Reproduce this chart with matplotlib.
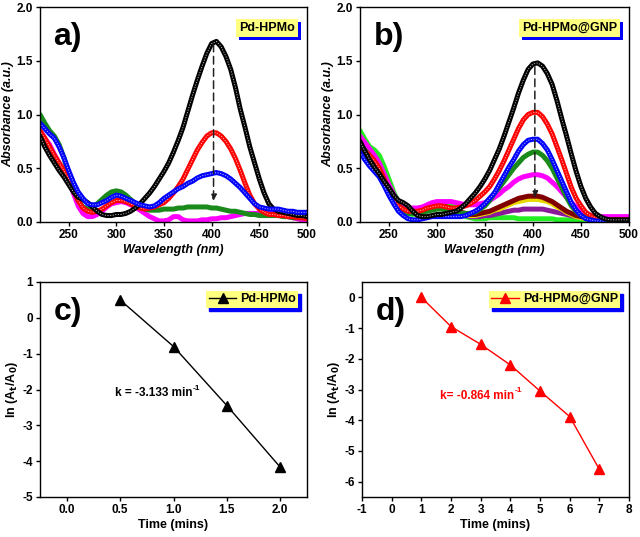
import numpy as np
import matplotlib
matplotlib.use("Agg")
import matplotlib.pyplot as plt
import matplotlib.patheffects as pe

plt.rcParams['font.family'] = ['Liberation Sans', 'DejaVu Sans']
plt.rcParams['font.weight'] = 'bold'
plt.rcParams['axes.unicode_minus'] = False
plt.rcParams['mathtext.default'] = 'bf'

# ---------------- data ----------------
wl = [220, 225, 230, 235, 240, 245, 250, 255, 260, 265, 270, 275, 280, 285, 290, 295,
      300, 305, 310, 315, 320, 325, 330, 335, 340, 345, 350, 355, 360, 365, 370, 375,
      380, 385, 390, 395, 400, 405, 410, 415, 420, 425, 430, 435, 440, 445, 450, 455,
      460, 465, 470, 475, 480, 485, 490, 495, 500]

# panel a (Pd-HPMo)
a_black = [0.80, 0.70, 0.62, 0.55, 0.48, 0.42, 0.35, 0.28, 0.23, 0.21, 0.18, 0.14, 0.10, 0.07, 0.06, 0.06,
           0.07, 0.07, 0.08, 0.10, 0.13, 0.17, 0.22, 0.27, 0.33, 0.40, 0.47, 0.55, 0.65, 0.76, 0.88, 1.03,
           1.18, 1.32, 1.45, 1.57, 1.66, 1.68, 1.63, 1.54, 1.42, 1.25, 1.05, 0.88, 0.70, 0.55, 0.40, 0.27,
           0.17, 0.12, 0.10, 0.09, 0.08, 0.07, 0.06, 0.06, 0.05]
a_red = [0.85, 0.78, 0.70, 0.62, 0.55, 0.48, 0.40, 0.30, 0.20, 0.13, 0.10, 0.09, 0.10, 0.12, 0.15, 0.18,
         0.20, 0.20, 0.19, 0.17, 0.14, 0.13, 0.12, 0.13, 0.14, 0.16, 0.18, 0.22, 0.27, 0.33, 0.40, 0.49,
         0.58, 0.67, 0.74, 0.80, 0.83, 0.83, 0.80, 0.75, 0.68, 0.59, 0.48, 0.36, 0.25, 0.17, 0.12, 0.09,
         0.07, 0.07, 0.06, 0.06, 0.05, 0.05, 0.04, 0.04, 0.03]
a_blue = [0.92, 0.87, 0.82, 0.78, 0.70, 0.60, 0.48, 0.37, 0.28, 0.22, 0.17, 0.16, 0.16, 0.18, 0.20, 0.23,
          0.25, 0.24, 0.22, 0.20, 0.18, 0.16, 0.15, 0.14, 0.15, 0.18, 0.22, 0.25, 0.28, 0.31, 0.33, 0.36,
          0.38, 0.41, 0.43, 0.44, 0.45, 0.46, 0.45, 0.43, 0.40, 0.36, 0.32, 0.27, 0.22, 0.17, 0.14, 0.13,
          0.12, 0.12, 0.12, 0.11, 0.10, 0.10, 0.09, 0.09, 0.09]
a_green = [1.00, 0.92, 0.85, 0.80, 0.72, 0.60, 0.45, 0.32, 0.20, 0.14, 0.12, 0.14, 0.17, 0.21, 0.25, 0.28,
           0.29, 0.28, 0.25, 0.21, 0.17, 0.14, 0.12, 0.11, 0.11, 0.11, 0.12, 0.12, 0.12, 0.13, 0.13, 0.14,
           0.14, 0.14, 0.14, 0.14, 0.13, 0.13, 0.12, 0.11, 0.10, 0.10, 0.09, 0.08, 0.07, 0.07, 0.06, 0.06,
           0.06, 0.06, 0.06, 0.05, 0.05, 0.04, 0.04, 0.04, 0.04]
a_magenta = [0.85, 0.78, 0.72, 0.63, 0.55, 0.48, 0.40, 0.27, 0.15, 0.08, 0.05, 0.05, 0.07, 0.10, 0.14, 0.17,
             0.18, 0.19, 0.18, 0.16, 0.14, 0.11, 0.08, 0.05, 0.03, 0.01, 0.01, 0.02, 0.05, 0.05, 0.02, 0.01,
             0.01, 0.01, 0.02, 0.02, 0.03, 0.03, 0.04, 0.04, 0.05, 0.06, 0.07, 0.08, 0.08, 0.08, 0.08, 0.08,
             0.08, 0.08, 0.07, 0.06, 0.05, 0.04, 0.03, 0.02, 0.02]

# panel b (Pd-HPMo@GNP)
b_black = [0.75, 0.66, 0.58, 0.51, 0.45, 0.38, 0.32, 0.25, 0.20, 0.18, 0.15, 0.10, 0.06, 0.05, 0.05, 0.06,
           0.07, 0.07, 0.08, 0.09, 0.10, 0.13, 0.17, 0.22, 0.27, 0.33, 0.40, 0.48, 0.58, 0.68, 0.80, 0.93,
           1.06, 1.20, 1.32, 1.42, 1.47, 1.48, 1.45, 1.38, 1.28, 1.13, 0.96, 0.80, 0.63, 0.47, 0.33, 0.22,
           0.14, 0.08, 0.05, 0.03, 0.02, 0.02, 0.02, 0.02, 0.02]
b_red = [0.70, 0.66, 0.62, 0.57, 0.50, 0.40, 0.30, 0.22, 0.15, 0.12, 0.10, 0.10, 0.10, 0.11, 0.13, 0.14,
         0.15, 0.15, 0.14, 0.13, 0.13, 0.14, 0.15, 0.17, 0.20, 0.24, 0.28, 0.33, 0.40, 0.48, 0.57, 0.67,
         0.77, 0.87, 0.95, 1.00, 1.02, 1.02, 0.98, 0.91, 0.82, 0.70, 0.58, 0.45, 0.32, 0.22, 0.15, 0.09,
         0.06, 0.04, 0.03, 0.02, 0.02, 0.02, 0.02, 0.02, 0.02]
b_blue = [0.65, 0.58, 0.52, 0.47, 0.42, 0.34, 0.25, 0.17, 0.10, 0.06, 0.03, 0.02, 0.02, 0.03, 0.04, 0.05,
          0.05, 0.05, 0.05, 0.05, 0.05, 0.05, 0.06, 0.08, 0.10, 0.13, 0.17, 0.22, 0.27, 0.35, 0.43, 0.51,
          0.58, 0.66, 0.72, 0.76, 0.77, 0.77, 0.73, 0.67, 0.58, 0.48, 0.38, 0.28, 0.18, 0.11, 0.06, 0.03,
          0.02, 0.01, 0.01, 0.01, 0.01, 0.01, 0.01, 0.01, 0.01]
b_dgreen = [0.72, 0.67, 0.62, 0.56, 0.50, 0.40, 0.30, 0.22, 0.15, 0.11, 0.08, 0.08, 0.08, 0.09, 0.10, 0.11,
            0.12, 0.12, 0.11, 0.10, 0.09, 0.08, 0.08, 0.08, 0.09, 0.12, 0.15, 0.20, 0.27, 0.32, 0.38, 0.44,
            0.50, 0.55, 0.60, 0.63, 0.65, 0.65, 0.62, 0.57, 0.50, 0.41, 0.32, 0.23, 0.15, 0.10, 0.06, 0.04,
            0.03, 0.02, 0.02, 0.02, 0.02, 0.02, 0.02, 0.02, 0.02]
b_magenta = [0.80, 0.74, 0.68, 0.62, 0.55, 0.45, 0.35, 0.26, 0.18, 0.15, 0.13, 0.13, 0.13, 0.14, 0.16, 0.18,
             0.19, 0.19, 0.19, 0.19, 0.18, 0.17, 0.16, 0.16, 0.16, 0.17, 0.18, 0.20, 0.23, 0.26, 0.30, 0.33,
             0.37, 0.40, 0.42, 0.43, 0.44, 0.44, 0.43, 0.41, 0.37, 0.33, 0.28, 0.23, 0.18, 0.14, 0.10, 0.08,
             0.06, 0.05, 0.05, 0.05, 0.05, 0.05, 0.05, 0.05, 0.05]
b_maroon = [0.72, 0.67, 0.62, 0.56, 0.50, 0.41, 0.32, 0.24, 0.17, 0.13, 0.10, 0.10, 0.10, 0.11, 0.13, 0.14,
            0.15, 0.15, 0.14, 0.12, 0.11, 0.09, 0.08, 0.07, 0.07, 0.08, 0.09, 0.10, 0.12, 0.14, 0.16, 0.18,
            0.20, 0.22, 0.23, 0.24, 0.24, 0.24, 0.23, 0.21, 0.19, 0.16, 0.13, 0.10, 0.08, 0.06, 0.05, 0.04,
            0.03, 0.03, 0.03, 0.03, 0.03, 0.03, 0.03, 0.03, 0.03]
b_yellow = [0.70, 0.65, 0.60, 0.54, 0.48, 0.39, 0.30, 0.23, 0.16, 0.12, 0.10, 0.10, 0.10, 0.11, 0.12, 0.13,
            0.14, 0.14, 0.13, 0.11, 0.10, 0.08, 0.07, 0.06, 0.06, 0.07, 0.08, 0.09, 0.11, 0.12, 0.14, 0.16,
            0.18, 0.19, 0.20, 0.21, 0.21, 0.21, 0.20, 0.19, 0.17, 0.14, 0.12, 0.09, 0.07, 0.05, 0.04, 0.03,
            0.03, 0.03, 0.03, 0.03, 0.03, 0.03, 0.03, 0.03, 0.03]
b_purple = [0.70, 0.66, 0.62, 0.56, 0.50, 0.40, 0.30, 0.22, 0.15, 0.12, 0.10, 0.10, 0.10, 0.11, 0.12, 0.13,
            0.14, 0.13, 0.12, 0.10, 0.09, 0.07, 0.06, 0.05, 0.05, 0.05, 0.06, 0.06, 0.07, 0.08, 0.09, 0.10,
            0.11, 0.11, 0.12, 0.12, 0.12, 0.12, 0.12, 0.11, 0.10, 0.09, 0.08, 0.07, 0.06, 0.05, 0.05, 0.04,
            0.04, 0.04, 0.04, 0.04, 0.04, 0.04, 0.04, 0.04, 0.04]
b_lime = [0.85, 0.77, 0.70, 0.67, 0.62, 0.52, 0.40, 0.28, 0.18, 0.12, 0.08, 0.07, 0.08, 0.11, 0.14, 0.17,
          0.18, 0.18, 0.17, 0.15, 0.13, 0.09, 0.05, 0.04, 0.03, 0.03, 0.03, 0.04, 0.04, 0.04, 0.04, 0.04,
          0.04, 0.03, 0.03, 0.03, 0.03, 0.03, 0.03, 0.03, 0.03, 0.02, 0.02, 0.02, 0.02, 0.02, 0.02, 0.02,
          0.02, 0.02, 0.02, 0.02, 0.02, 0.02, 0.02, 0.02, 0.02]

# panel c / d kinetics
c_time = [0.5, 1.0, 1.5, 2.0]
c_ln = [0.50, -0.80, -2.45, -4.17]
d_time = [1, 2, 3, 4, 5, 6, 7]
d_ln = [0.0, -0.95, -1.53, -2.20, -3.05, -3.88, -5.60]

TICK_FS = 8.5
LBL_FS = 9
LEG_FS = 9
YELLOW = '#ffff80'

fig = plt.figure(figsize=(6.4, 5.37), dpi=100)
axa = fig.add_axes([40/640, 1-222/537, 267/640, 215/537])
axb = fig.add_axes([360/640, 1-222/537, 269/640, 215/537])
axc = fig.add_axes([40/640, 1-497/537, 267/640, 215/537])
axd = fig.add_axes([362/640, 1-497/537, 267/640, 215/537])


def spec(ax, y, color, hollow=True):
    ax.plot(wl, y, color=color, lw=3.6, solid_capstyle='round', solid_joinstyle='round', zorder=2)
    if hollow:
        ax.plot(wl, y, color='white', lw=0.7, ls=(0, (1.2, 1.5)), alpha=0.7, zorder=2)


def style(ax):
    for s in ax.spines.values():
        s.set_linewidth(1.0)
    ax.tick_params(direction='out', length=3, width=1, labelsize=TICK_FS, pad=2)
    for t in ax.get_xticklabels() + ax.get_yticklabels():
        t.set_fontweight('bold')


def panel_label(ax, txt):
    ax.text(0.05, 0.93, txt, transform=ax.transAxes, fontsize=23, fontweight='bold', va='top')


def tag(ax, txt, x, y):
    t = ax.text(x, y, txt, transform=ax.transAxes, fontsize=LEG_FS, fontweight='bold',
                ha='right', va='top', zorder=6,
                bbox=dict(boxstyle='square,pad=0.25', fc=YELLOW, ec='none'))
    t.get_bbox_patch().set_path_effects([
        pe.SimplePatchShadow(offset=(2.2, -2.2), shadow_rgbFace='blue', alpha=1.0),
        pe.Normal()])


def arrow(ax, x, y0, y1):
    ax.annotate('', xy=(x, y1), xytext=(x, y0),
                arrowprops=dict(arrowstyle='-|>', ls=(0, (5, 3)), color='#222222', lw=1.1,
                                mutation_scale=9), zorder=5)


def rate_text(ax, x, y, main, color):
    t = ax.text(x, y, main, fontsize=8.5, fontweight='bold', va='center', color=color)
    ax.annotate('-1', xy=(1, 1), xycoords=t, xytext=(0.3, -3.2), textcoords='offset points',
                fontsize=6, fontweight='bold', color=color, va='bottom', ha='left')


# ---------------- panel a ----------------
spec(axa, a_magenta, '#ff00ff', False)
spec(axa, a_green, '#1a8a1a', False)
spec(axa, a_red, '#ff0000')
spec(axa, a_black, '#000000')
spec(axa, a_blue, '#0000ff')
arrow(axa, 402, 1.68, 0.17)
axa.set_xlim(220, 500)
axa.set_ylim(0, 2.0)
axa.set_xticks([250, 300, 350, 400, 450, 500])
axa.set_yticks([0.0, 0.5, 1.0, 1.5, 2.0])
axa.set_xlabel('Wavelength (nm)', fontsize=LBL_FS, fontweight='bold', fontstyle='italic', labelpad=2)
axa.set_ylabel('Absorbance (a.u.)', fontsize=LBL_FS, fontweight='bold', fontstyle='italic', labelpad=2)
panel_label(axa, 'a)')
tag(axa, 'Pd-HPMo', 0.955, 0.93)
style(axa)

# ---------------- panel b ----------------
spec(axb, b_lime, '#22ee22', False)
spec(axb, b_purple, '#8a1a9a', False)
spec(axb, b_yellow, '#e8d800', False)
spec(axb, b_maroon, '#800000', False)
spec(axb, b_magenta, '#ff00ff', False)
spec(axb, b_dgreen, '#1a8a1a', False)
spec(axb, b_red, '#ff0000')
spec(axb, b_blue, '#0000ff')
spec(axb, b_black, '#000000')
arrow(axb, 402, 1.47, 0.20)
axb.set_xlim(220, 500)
axb.set_ylim(0, 2.0)
axb.set_xticks([250, 300, 350, 400, 450, 500])
axb.set_yticks([0.0, 0.5, 1.0, 1.5, 2.0])
axb.set_xlabel('Wavelength (nm)', fontsize=LBL_FS, fontweight='bold', fontstyle='italic', labelpad=2)
axb.set_ylabel('Absorbance (a.u.)', fontsize=LBL_FS, fontweight='bold', fontstyle='italic', labelpad=2)
panel_label(axb, 'b)')
tag(axb, 'Pd-HPMo@GNP', 0.955, 0.93)
style(axb)

# ---------------- panel c ----------------
axc.plot(c_time, c_ln, color='black', lw=1.0, marker='^', ms=6.5, label='Pd-HPMo')
axc.set_xlim(-0.25, 2.25)
axc.set_ylim(-5, 1)
axc.set_xticks([0.0, 0.5, 1.0, 1.5, 2.0])
axc.set_xticklabels(['0.0', '0.5', '1.0', '1.5', '2.0'])
axc.set_yticks([-5, -4, -3, -2, -1, 0, 1])
axc.set_xlabel('Time (mins)', fontsize=LBL_FS, fontweight='bold', labelpad=2)
axc.set_ylabel('ln (A$_t$/A$_0$)', fontsize=LBL_FS, fontweight='bold', labelpad=2)
rate_text(axc, 0.45, -2.1, 'k = -3.133 min', 'black')
panel_label(axc, 'c)')
legc = axc.legend(loc='upper right', fontsize=LEG_FS, frameon=True, fancybox=False, framealpha=1,
                  facecolor=YELLOW, edgecolor='none', borderpad=0.2, handlelength=2.2,
                  handletextpad=0.3, borderaxespad=0.7, shadow={'color': 'blue', 'alpha': 1})
for t in legc.get_texts():
    t.set_fontweight('bold')
style(axc)

# ---------------- panel d ----------------
axd.plot(d_time, d_ln, color='#ff0000', lw=1.0, marker='^', ms=6.5, label='Pd-HPMo@GNP')
axd.set_xlim(-1, 8)
axd.set_ylim(-6.5, 0.5)
axd.set_xticks(list(range(-1, 9)))
axd.set_yticks([-6, -5, -4, -3, -2, -1, 0])
axd.set_xlabel('Time (mins)', fontsize=LBL_FS, fontweight='bold', labelpad=2)
axd.set_ylabel('ln (A$_t$/A$_0$)', fontsize=LBL_FS, fontweight='bold', labelpad=2)
rate_text(axd, 1.63, -3.2, 'k= -0.864 min', '#ff0000')
panel_label(axd, 'd)')
legd = axd.legend(loc='upper right', fontsize=LEG_FS, frameon=True, fancybox=False, framealpha=1,
                  facecolor=YELLOW, edgecolor='none', borderpad=0.2, handlelength=2.2,
                  handletextpad=0.3, borderaxespad=0.7, shadow={'color': 'blue', 'alpha': 1})
for t in legd.get_texts():
    t.set_fontweight('bold')
style(axd)

fig.savefig('out.png', dpi=100)
